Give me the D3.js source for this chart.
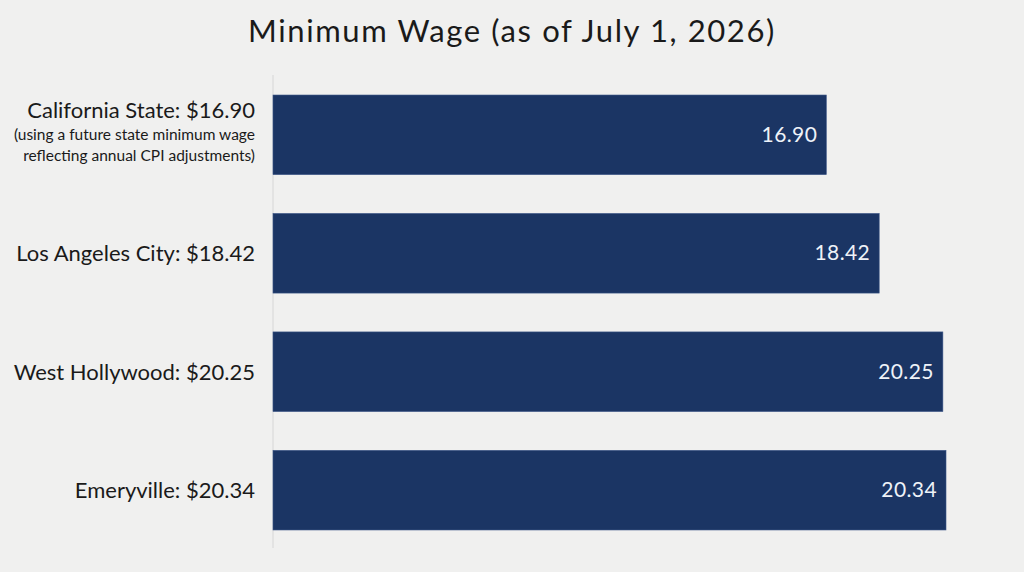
<!DOCTYPE html>
<html>
<head>
<meta charset="utf-8">
<script src="https://cdn.jsdelivr.net/npm/d3@7"></script>
<style>
  body { margin: 0; background: #f0f0ef; }
  svg { display: block; }
</style>
</head>
<body>
<svg id="chart"></svg>
<script>
var width = 1024, height = 572;

var places = ['California State', 'Los Angeles City', 'West Hollywood', 'Emeryville'];
var wages = [16.90, 18.42, 20.25, 20.34];
var notes = [['(using a future state minimum wage', 'reflecting annual CPI adjustments)'], [], [], []];

var data_set = places.map(function(p, i) {
  return { name: p, wage: wages[i], notes: notes[i] };
});

var svg = d3.select('#chart').attr('width', width).attr('height', height);

svg.append('rect').attr('width', width).attr('height', height).attr('fill', '#f0f0ef');

// x scale does not start at zero in the original
var x = d3.scaleLinear().domain([1, d3.max(wages)]).range([273, 946]);
var y = d3.scaleBand().domain(places).range([75, 550]).paddingInner(0.328).paddingOuter(0.169);

svg.append('text')
  .attr('x', 512).attr('y', 42)
  .attr('text-anchor', 'middle')
  .style('font-family', 'Lato, sans-serif')
  .style('font-size', '31px')
  .style('letter-spacing', '1.6px')
  .style('fill', '#1a1a1a')
  .text('Minimum Wage (as of July 1, 2026)');

svg.append('line')
  .attr('x1', 273).attr('x2', 273)
  .attr('y1', 75).attr('y2', 548)
  .attr('stroke', '#d6d6d6').attr('stroke-width', 1);

var bars = svg.selectAll('g.bar')
  .data(data_set)
  .enter()
  .append('g').attr('class', 'bar');

bars.append('rect')
  .attr('x', x(1))
  .attr('y', function(d) { return y(d.name); })
  .attr('width', function(d) { return x(d.wage) - x(1); })
  .attr('height', y.bandwidth())
  .attr('fill', '#1b3564')
  .attr('stroke', '#3a5486').attr('stroke-width', 0.6);

bars.append('text')
  .attr('x', function(d) { return x(d.wage) - 9; })
  .attr('y', function(d) { return y(d.name) + y.bandwidth() / 2 + 7; })
  .attr('text-anchor', 'end')
  .style('font-family', 'Lato, sans-serif')
  .style('font-size', '21px')
  .style('letter-spacing', '0.4px')
  .style('fill', '#eef2f8')
  .text(function(d) { return d.wage.toFixed(2); });

// category labels, left of the axis
bars.each(function(d) {
  var g = d3.select(this);
  var cy = y(d.name) + y.bandwidth() / 2;
  var base = d.notes.length ? cy - 17 : cy + 8;
  g.append('text')
    .attr('x', 255).attr('y', base)
    .attr('text-anchor', 'end')
    .style('font-family', 'Lato, sans-serif')
    .style('font-size', '22px')
    .style('fill', '#1a1a1a')
    .text(d.name + ': $' + d.wage.toFixed(2));
  d.notes.forEach(function(n, i) {
    g.append('text')
      .attr('x', 255).attr('y', cy + 5.5 + i * 21)
      .attr('text-anchor', 'end')
      .style('font-family', 'Lato, sans-serif')
      .style('font-size', '15.5px')
      .style('fill', '#1a1a1a')
      .text(n);
  });
});
</script>
</body>
</html>
